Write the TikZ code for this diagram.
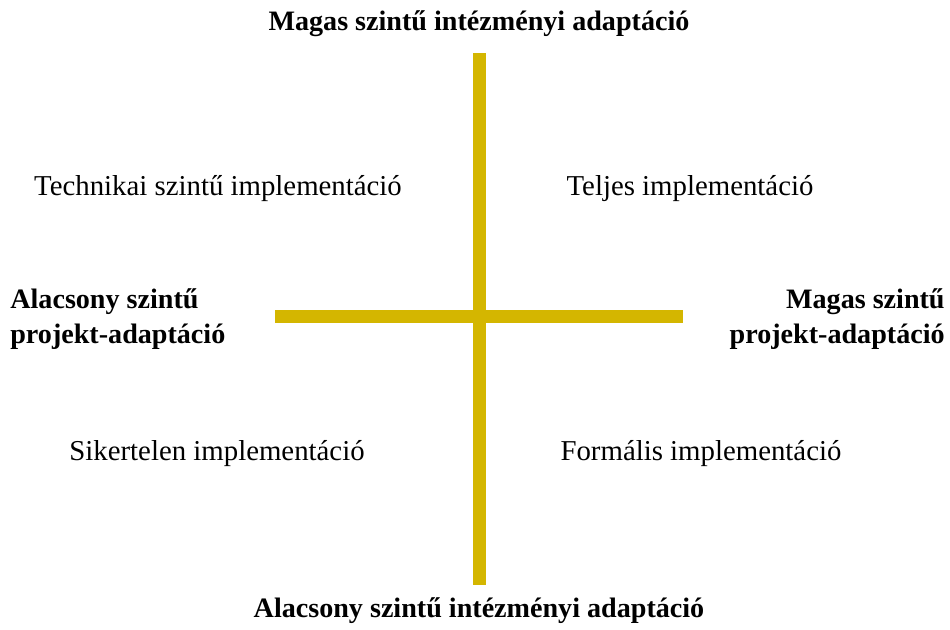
\documentclass[tikz,border=0pt]{standalone}
\usepackage{fontspec}
\setmainfont{Liberation Serif}
\usetikzlibrary{positioning}
\definecolor{mustar}{HTML}{D4B600}

\begin{document}
\begin{tikzpicture}[x=0.02cm,y=-0.02cm,
      tengely/.style={draw=mustar,line width=0.26cm},
      cim/.style={font=\fontsize{16}{20}\selectfont\bfseries,inner sep=0pt},
      mezo/.style={font=\fontsize{16.4}{20}\selectfont,inner sep=0pt}]
    \useasboundingbox (0,0) rectangle (950,629);
    % tengelyek
    \coordinate (fent) at (479,53);
    \coordinate (lent) at (479,585);
    \coordinate (bal) at (275,316);
    \coordinate (jobb) at (683,316);
    \draw[tengely] (fent) -- (lent);
    \draw[tengely] (bal) -- (jobb);
    % feliratok
    \node[cim] (mi) at (479,24) {Magas szintű intézményi adaptáció};
    \node[cim] (ai) at (479,611) {Alacsony szintű intézményi adaptáció};
    \node[cim,align=left,anchor=west] (ap) at (10,319) {Alacsony szintű\\projekt-adaptáció};
    \node[cim,align=right,anchor=east] (mp) at (945,319) {Magas szintű\\projekt-adaptáció};
    % negyedek
    \node[mezo] (tech) at (218,189) {Technikai szintű implementáció};
    \node[mezo] (telj) at (690,189) {Teljes implementáció};
    \node[mezo] (sik) at (217,454) {Sikertelen implementáció};
    \node[mezo] (form) at (701,454) {Formális implementáció};
\end{tikzpicture}
\end{document}
